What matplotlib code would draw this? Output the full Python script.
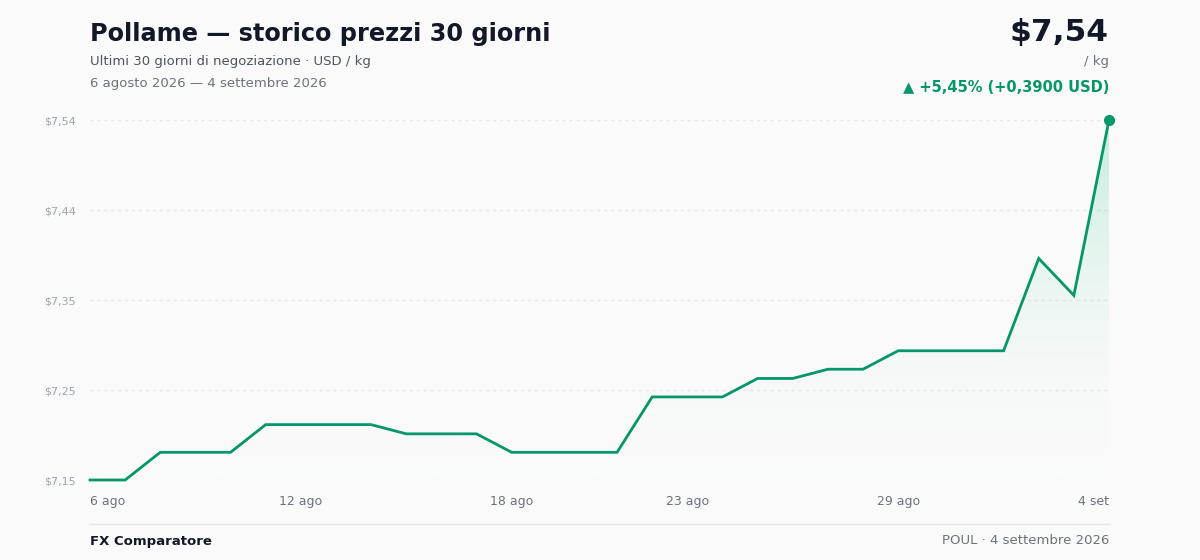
import numpy as np
import matplotlib.pyplot as plt
from matplotlib.colors import LinearSegmentedColormap

plt.rcParams['font.family'] = ['DejaVu Sans']

# data
prices = [7.15, 7.15, 7.18, 7.18, 7.18, 7.21, 7.21, 7.21, 7.21, 7.20,
          7.20, 7.20, 7.18, 7.18, 7.18, 7.18, 7.24, 7.24, 7.24, 7.26,
          7.26, 7.27, 7.27, 7.29, 7.29, 7.29, 7.29, 7.39, 7.35, 7.54]
tick_idx = [0, 6, 12, 17, 23, 29]
tick_labels = ['6 ago', '12 ago', '18 ago', '23 ago', '29 ago', '4 set']
y_ticks = [7.15, 7.2475, 7.345, 7.4425, 7.54]
y_labels = ['$7,15', '$7,25', '$7,35', '$7,44', '$7,54']

green = '#059669'
bg = '#fafafa'

fig = plt.figure(figsize=(12, 5.6), dpi=100)
fig.patch.set_facecolor(bg)
ax = fig.add_axes([90 / 1200, 1 - 480 / 560, 1019 / 1200, 360 / 560])
ax.set_facecolor(bg)

x = np.arange(len(prices))
ymin, ymax = 7.15, 7.54
ax.set_xlim(0, len(prices) - 1)
ax.set_ylim(ymin, ymax)

# gradient fill under the line
grad = LinearSegmentedColormap.from_list('g', [(1, 1, 1, 0), (0.02, 0.72, 0.45, 0.22)])
img = ax.imshow(np.linspace(0, 1, 256).reshape(-1, 1), cmap=grad, aspect='auto',
                extent=[0, len(prices) - 1, ymin, ymax], origin='lower', zorder=1)
poly = ax.fill_between(x, prices, ymin, color='none', lw=0)
img.set_clip_path(poly.get_paths()[0], transform=ax.transData)

for yt in y_ticks:
    ax.axhline(yt, color='#e5e7eb', lw=1, ls=(0, (2, 3)), zorder=0)

ax.plot(x, prices, color=green, lw=2, zorder=3, clip_on=False, solid_joinstyle='miter')
ax.plot(x[-1], prices[-1], 'o', color=green, ms=7, zorder=4, clip_on=False)

for s in ax.spines.values():
    s.set_visible(False)
ax.tick_params(length=0)
ax.set_yticks(y_ticks)
ax.set_yticklabels(y_labels, fontsize=8, color='#9ca3af')
ax.tick_params(axis='y', pad=10)
ax.set_xticks(tick_idx)
ax.set_xticklabels(tick_labels, fontsize=9, color='#6b7280')
ax.tick_params(axis='x', pad=11)
labs = ax.get_xticklabels()
labs[0].set_ha('left')
labs[-1].set_ha('right')

# header
fig.text(90 / 1200, 1 - 34 / 560, 'Pollame — storico prezzi 30 giorni', fontsize=17.3,
         fontweight='bold', color='#111827', va='center')
fig.text(90 / 1200, 1 - 61 / 560, 'Ultimi 30 giorni di negoziazione · USD / kg', fontsize=9.5,
         color='#4b5563', va='center')
fig.text(90 / 1200, 1 - 84 / 560, '6 agosto 2026 — 4 settembre 2026', fontsize=9.5,
         color='#6b7280', va='center')
fig.text(1109 / 1200, 1 - 33 / 560, '$7,54', fontsize=22.5, fontweight='bold',
         color='#111827', va='center', ha='right')
fig.text(1109 / 1200, 1 - 61 / 560, '/ kg', fontsize=9.5, color='#6b7280', va='center', ha='right')
fig.text(1109 / 1200, 1 - 87 / 560, '▲ +5,45% (+0,3900 USD)', fontsize=10.5, fontweight='bold',
         color=green, va='center', ha='right')

# footer
fig.add_artist(plt.Line2D([90 / 1200, 1109 / 1200], [1 - 524 / 560] * 2, color='#e5e7eb', lw=1))
fig.text(90 / 1200, 1 - 541 / 560, 'FX Comparatore', fontsize=9.5, fontweight='bold',
         color='#111827', va='center')
fig.text(1109 / 1200, 1 - 541 / 560, 'POUL · 4 settembre 2026', fontsize=9.5,
         color='#6b7280', va='center', ha='right')

fig.savefig('out.png', dpi=100, facecolor=bg)
